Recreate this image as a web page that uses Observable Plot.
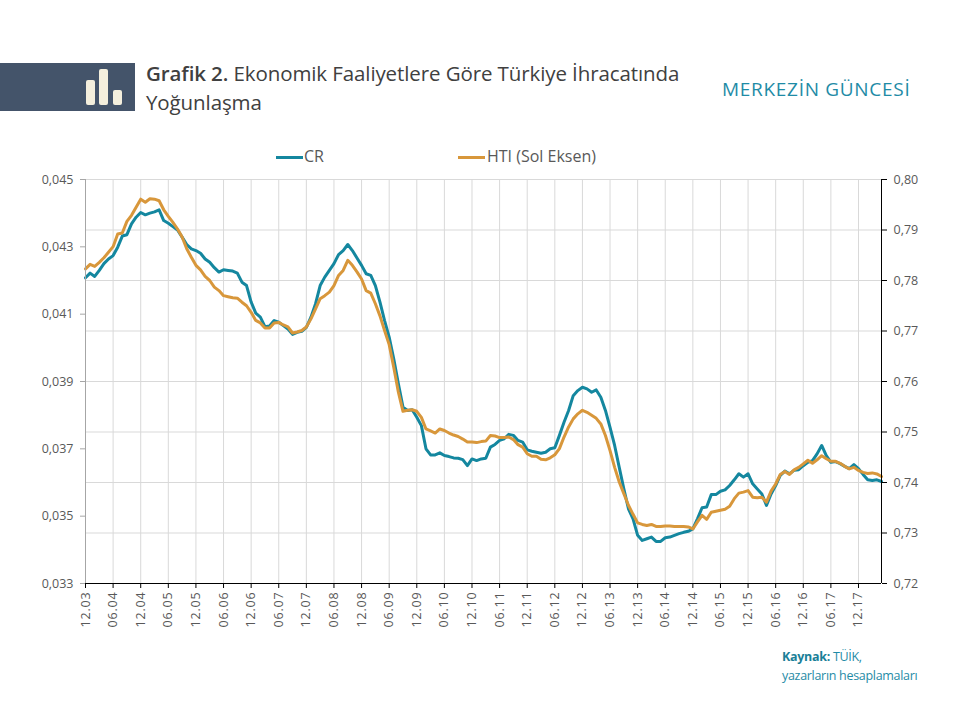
<!DOCTYPE html>
<html><head><meta charset="utf-8">
<script src="https://cdn.jsdelivr.net/npm/d3@7"></script>
<script src="https://cdn.jsdelivr.net/npm/@observablehq/plot@0.6"></script>
<style>
body{margin:0;background:#fff;width:960px;height:720px;position:relative;overflow:hidden;font-family:"Open Sans",Lato,sans-serif;}
#band{position:absolute;left:0;top:63px;width:135px;height:48px;background:#44546a;}
.bar{position:absolute;background:#f4efdd;border-radius:2px;bottom:6px;width:9px;}
#title{position:absolute;left:146px;top:59px;font-size:20.5px;line-height:29px;color:#404040;letter-spacing:-0.1px;}
#title b{font-weight:600;}
#brand{position:absolute;left:722px;top:76px;font-size:19px;color:#1f8ba6;letter-spacing:0.7px;}
.lg{position:absolute;top:145px;font-size:16px;color:#595959;}
.sw{position:absolute;top:156px;width:27px;height:3px;}
#chart{position:absolute;left:0;top:165px;}
#caption{position:absolute;left:782px;top:647px;font-size:12.5px;color:#1f8ba6;line-height:19px;letter-spacing:-0.3px;}
#caption b{font-weight:700;color:#1a7f98;}
svg g[aria-label="x-axis tick label"] text{letter-spacing:0.8px;}
</style></head>
<body>
<div id="band">
  <div class="bar" style="left:86px;height:25px;"></div>
  <div class="bar" style="left:99px;height:36px;"></div>
  <div class="bar" style="left:113px;height:15px;"></div>
</div>
<div id="title"><b>Grafik 2.</b> Ekonomik Faaliyetlere Göre Türkiye İhracatında<br>Yoğunlaşma</div>
<div id="brand">MERKEZİN GÜNCESİ</div>
<div class="sw" style="left:276px;background:#14879f;"></div>
<div class="lg" style="left:304px;">CR</div>
<div class="sw" style="left:458px;background:#d8973b;"></div>
<div class="lg" style="left:487px;">HTI (Sol Eksen)</div>
<div id="chart"></div>
<div id="caption"><b>Kaynak:</b> TÜİK,<br>yazarların hesaplamaları</div>
<script>
const tickLabels = ["12.03","06.04","12.04","06.05","12.05","06.06","12.06","06.07","12.07","06.08","12.08","06.09","12.09","06.10","12.10","06.11","12.11","06.12","12.12","06.13","12.13","06.14","12.14","06.15","12.15","06.16","12.16","06.17","12.17"];
const leftTicks = [0.033,0.035,0.037,0.039,0.041,0.043,0.045];
const rightTicks = [0.72,0.73,0.74,0.75,0.76,0.77,0.78,0.79,0.80];
const cr = [
0.04208,0.04222,0.04212,0.0423,0.0425,0.04264,0.04274,0.04299,0.04332,0.04336,
0.04368,0.04388,0.04402,0.04395,0.044,0.04404,0.0441,0.04378,0.0437,0.0436,
0.0435,0.04329,0.04307,0.04294,0.04289,0.04281,0.04264,0.04254,0.04238,0.04225,
0.04232,0.0423,0.04228,0.04222,0.04195,0.04185,0.04136,0.04103,0.04091,0.04063,
0.04065,0.04081,0.04076,0.04066,0.04056,0.0404,0.04046,0.04049,0.04061,0.04091,
0.04131,0.04185,0.0421,0.0423,0.0425,0.04277,0.04289,0.04307,0.04289,0.04267,
0.04245,0.0422,0.04215,0.04185,0.04136,0.04081,0.04032,0.03967,0.03893,0.03824,
0.03814,0.03816,0.03794,0.03769,0.037,0.03682,0.03682,0.03688,0.0368,0.03677,
0.03673,0.03672,0.03668,0.0365,0.0367,0.03665,0.0367,0.03672,0.03705,0.03713,
0.03725,0.0373,0.03743,0.0374,0.03725,0.0372,0.03697,0.03693,0.0369,0.03687,
0.0369,0.037,0.03703,0.0374,0.03779,0.03814,0.03858,0.03873,0.03883,0.03878,
0.03868,0.03875,0.03853,0.03814,0.03764,0.0371,0.03645,0.03581,0.03522,0.03492,
0.03443,0.03428,0.03433,0.03438,0.03425,0.03425,0.03436,0.03438,0.03443,0.03448,
0.03452,0.03455,0.03462,0.03492,0.03525,0.03527,0.03564,0.03564,0.03574,0.03578,
0.03591,0.03608,0.03626,0.03616,0.03626,0.03596,0.03581,0.03566,0.03532,0.03566,
0.03591,0.03621,0.03634,0.03626,0.03636,0.03638,0.0365,0.0366,0.03665,0.03685,
0.0371,0.0368,0.0366,0.03662,0.03656,0.03648,0.03641,0.03653,0.03641,0.03624,
0.03608,0.03606,0.03608,0.03603];
const hti = [
0.7823,0.7832,0.7828,0.7836,0.7845,0.7856,0.7867,0.7892,0.7894,0.7917,
0.7929,0.7945,0.7961,0.7955,0.7962,0.7961,0.7958,0.794,0.7927,0.7915,
0.7902,0.7886,0.7863,0.7846,0.783,0.7821,0.7808,0.78,0.7787,0.778,
0.777,0.7768,0.7766,0.7765,0.7757,0.775,0.7737,0.7721,0.7716,0.7706,
0.7706,0.7716,0.7717,0.7712,0.7708,0.7696,0.7698,0.7701,0.7708,0.7724,
0.7744,0.7764,0.777,0.7777,0.779,0.781,0.782,0.784,0.783,0.7817,
0.7803,0.778,0.7775,0.7754,0.773,0.7701,0.7673,0.7628,0.7579,0.7541,
0.7543,0.7544,0.7541,0.7529,0.7506,0.7502,0.7498,0.7506,0.7503,0.7498,
0.7494,0.7491,0.7486,0.748,0.748,0.7479,0.7481,0.7482,0.7493,0.7492,
0.7489,0.7489,0.749,0.7485,0.7475,0.747,0.7457,0.7452,0.7452,0.7446,
0.7445,0.7449,0.7455,0.7467,0.749,0.751,0.7526,0.7536,0.7543,0.7539,
0.7533,0.7527,0.7516,0.7493,0.7463,0.743,0.7401,0.7378,0.7355,0.7337,
0.732,0.7317,0.7315,0.7317,0.7313,0.7313,0.7314,0.7314,0.7313,0.7313,
0.7313,0.7312,0.7308,0.7322,0.7335,0.7327,0.7341,0.7343,0.7345,0.7347,
0.7353,0.7368,0.7379,0.7381,0.7384,0.7371,0.737,0.7371,0.7361,0.7383,
0.7397,0.7416,0.7422,0.7416,0.7425,0.743,0.7437,0.7444,0.7438,0.7445,
0.7453,0.7447,0.7442,0.7442,0.7438,0.7432,0.7427,0.743,0.7424,0.742,
0.7418,0.7419,0.7417,0.7412];

const toLeft = h => 0.033 + (h - 0.72) * 0.15;
const fromLeft = d => 0.72 + (d - 0.033) / 0.15;
const data = cr.map((v, i) => ({i, cr: v, hti: toLeft(hti[i])}));
const xTicks = tickLabels.map((_, k) => k * 6);
const rightPos = rightTicks.map(toLeft);
const comma = (v, n) => v.toFixed(n).replace(".", ",");

const chart = Plot.plot({
  width: 960, height: 490,
  marginTop: 14, marginBottom: 72, marginLeft: 85, marginRight: 79,
  x: {domain: [0, cr.length - 1]},
  y: {domain: [0.033, 0.045]},
  style: {fontFamily: "'Open Sans', Lato, sans-serif", fontSize: "12.5px", color: "#595959", background: "transparent", overflow: "visible"},
  marks: [
    Plot.gridY(rightPos, {stroke: "#d9d9d9", strokeOpacity: 1}),
    Plot.gridX(xTicks, {stroke: "#d9d9d9", strokeOpacity: 1}),
    Plot.line(data, {x: "i", y: "cr", stroke: "#14879f", strokeWidth: 3, strokeLinejoin: "round"}),
    Plot.line(data, {x: "i", y: "hti", stroke: "#d8973b", strokeWidth: 3, strokeLinejoin: "round"}),
    Plot.ruleX([0], {stroke: "#a6a6a6"}),
    Plot.ruleX([cr.length - 1], {stroke: "#000"}),
    Plot.ruleY([0.033], {stroke: "#000"}),
    Plot.axisY(leftTicks, {anchor: "left", label: null, tickSize: 5, tickPadding: 7, stroke: "#a6a6a6", fill: "#595959", tickFormat: d => comma(d, 3)}),
    Plot.axisY(rightPos, {anchor: "right", label: null, tickSize: 5, tickPadding: 7, stroke: "#000", fill: "#595959", tickFormat: d => comma(fromLeft(d), 2)}),
    Plot.axisX(xTicks, {anchor: "bottom", label: null, tickRotate: -90, tickSize: 5, tickPadding: 3, stroke: "#000", fill: "#595959", tickFormat: i => tickLabels[i / 6]})
  ]
});
document.getElementById("chart").appendChild(chart);
</script>
</body></html>
